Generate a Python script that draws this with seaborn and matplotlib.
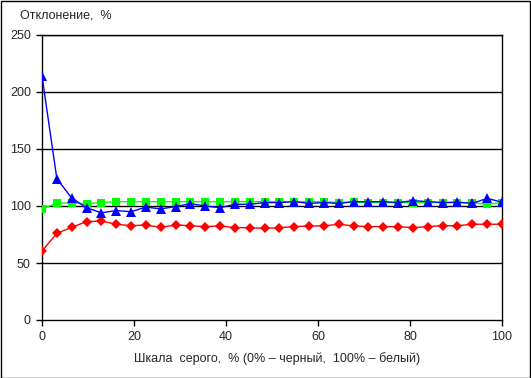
import numpy as np
import pandas as pd
import seaborn as sns
import matplotlib.pyplot as plt
from matplotlib.patches import Rectangle

# Gray scale steps, % (32 levels)
gray = [i * 100 / 31 for i in range(32)]

blue_vals = [214, 124, 107, 98.5, 94, 96, 95, 99, 97.5, 99.5, 102, 100,
             98.5, 101.5, 101.5, 103, 103, 103.8, 102.3, 103, 102.3, 103.8,
             103.8, 103.8, 103, 104.7, 103.8, 103, 103.3, 102.3, 106.7, 103.3]
green_vals = [97.5, 102.5, 102.5, 102, 103, 103.8, 103.8, 103.8, 103.8, 103.8,
              103.8, 103.8, 103.8, 103.8, 103.8, 103.8, 103.8, 103.8, 103.8,
              103.8, 103, 103.5, 103, 103, 103, 103, 103, 103, 103, 103,
              101.5, 103]
red_vals = [60.5, 76, 81.3, 86.3, 86.8, 84, 82.7, 83.3, 81.3, 83.3, 82.7,
            81.9, 82.5, 81, 81, 80.4, 81, 81.9, 82.5, 82.5, 84, 82.5,
            81.9, 81.9, 81.9, 81, 81.9, 82.7, 82.7, 84, 84, 84]

y_ticks = [0, 50, 100, 150, 200, 250]
x_ticks = [0, 20, 40, 60, 80, 100]

df = pd.DataFrame({"gray": gray, "blue": blue_vals, "green": green_vals, "red": red_vals})

sns.set_style("white")
plt.rcParams['font.family'] = ['Liberation Sans', 'DejaVu Sans']
plt.rcParams['font.size'] = 9

fig = plt.figure(figsize=(5.31, 3.78), dpi=100)
ax = fig.add_axes([42 / 531, 1 - 320 / 378, 460 / 531, 285 / 378])

for y in y_ticks[1:]:
    ax.axhline(y, color='black', lw=1, zorder=1)

sns.lineplot(ax=ax, data=df, x="gray", y="red", color='#ff0000', lw=1,
             marker='D', markersize=5.5, markeredgewidth=0, zorder=3)
sns.lineplot(ax=ax, data=df, x="gray", y="green", color='#00ff00', lw=1,
             marker='s', markersize=5.8, markeredgewidth=0, zorder=3)
sns.lineplot(ax=ax, data=df, x="gray", y="blue", color='#0000ff', lw=1,
             marker='^', markersize=7, markeredgewidth=0, zorder=4)

ax.set_xlim(0, 100)
ax.set_ylim(0, 250)
ax.set_xticks(x_ticks)
ax.set_yticks(y_ticks)
ax.set_xlabel("")
ax.set_ylabel("")
for s in ax.spines.values():
    s.set_color('black')
    s.set_linewidth(1)
ax.tick_params(direction='out', length=4, width=1, color='black', pad=4,
               labelsize=9, bottom=True, left=True)

fig.text(20 / 531, 1 - 19 / 378, "Отклонение,  %", fontsize=9, va='baseline', ha='left')
fig.text(277 / 531, 1 - 362 / 378, "Шкала  серого,  % (0% – черный,  100% – белый)",
         fontsize=9, va='baseline', ha='center')

fig.patches.append(Rectangle((0.5 / 531, 0.5 / 378), 529.5 / 531, 376.5 / 378,
                             transform=fig.transFigure, fill=False,
                             edgecolor='black', lw=1))

fig.savefig("out.png", dpi=100)
